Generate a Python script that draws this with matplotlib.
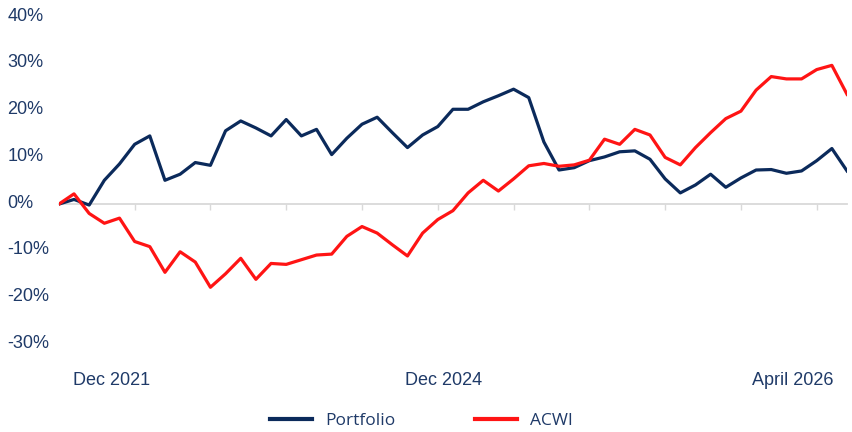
import matplotlib
matplotlib.use("Agg")
import matplotlib.pyplot as plt
import matplotlib.transforms as mtransforms
import numpy as np

# cumulative return (%), one value per period
portfolio = [0.0, 1.0, -0.2, 5.1, 8.6, 12.8, 14.6, 5.1, 6.4, 8.9,
             8.3, 15.7, 17.8, 16.3, 14.6, 18.1, 14.6, 16.0, 10.6, 14.1,
             17.1, 18.6, 15.3, 12.1, 14.8, 16.6, 20.3, 20.3, 21.9, 23.2,
             24.6, 22.8, 13.3, 7.3, 7.8, 9.3, 10.1, 11.2, 11.4, 9.6,
             5.4, 2.4, 4.1, 6.4, 3.6, 5.6, 7.3, 7.4, 6.6, 7.1,
             9.3, 11.9, 7.1]
acwi = [0.0, 2.2, -2.0, -4.1, -3.0, -8.0, -9.1, -14.6, -10.2, -12.4,
        -17.8, -14.9, -11.6, -16.1, -12.7, -12.9, -11.9, -10.9, -10.7, -6.9,
        -4.8, -6.2, -8.7, -11.1, -6.2, -3.3, -1.4, 2.4, 5.1, 2.8,
        5.4, 8.2, 8.7, 8.1, 8.4, 9.4, 13.9, 12.8, 16.0, 14.8,
        10.0, 8.4, 12.1, 15.3, 18.3, 19.9, 24.4, 27.3, 26.8, 26.8,
        28.8, 29.7, 23.5]

date_labels = ['Dec 2021', 'Dec 2024', 'April 2026']
date_label_pos = [3.5, 25.4, 48.4]
y_ticks = [-30, -20, -10, 0, 10, 20, 30, 40]

navy = '#0B2A5B'
red = '#FF1414'
text_col = '#1F3A68'
grey = '#D9D9D9'

plt.rcParams['font.family'] = ['Liberation Sans', 'DejaVu Sans']

x = np.arange(len(portfolio))

fig = plt.figure(figsize=(8.53, 4.32), dpi=100)
ax = fig.add_axes([0.069, 0.149, 0.924, 0.8165])

ax.plot(x, portfolio, color=navy, lw=2.3, zorder=3, label='Portfolio',
        solid_joinstyle='round')
ax.plot(x, acwi, color=red, lw=2.3, zorder=3, label='ACWI',
        solid_joinstyle='round')

ax.set_xlim(0, len(x) - 1)
ax.set_ylim(-35, 40.5)

# zero line with small tick marks
for s in ['top', 'right', 'left']:
    ax.spines[s].set_visible(False)
ax.spines['bottom'].set_position(('data', 0))
ax.spines['bottom'].set_color(grey)
ax.spines['bottom'].set_linewidth(1.3)
ax.set_xticks(np.arange(5, len(x), 5))
ax.set_xticklabels([])
ax.tick_params(axis='x', length=4, width=1, color=grey)

ax.set_yticks(y_ticks)
ax.set_yticklabels([f'{v}%' for v in y_ticks], ha='left')
ax.tick_params(axis='y', length=0, pad=37, labelsize=13, labelcolor=text_col)
# labels sit a little above their value in the original
shift = mtransforms.ScaledTranslation(0, 3 / 100, fig.dpi_scale_trans)
for lab in ax.get_yticklabels():
    lab.set_transform(lab.get_transform() + shift)

# date labels along the bottom
sec = ax.secondary_xaxis(0.0)
sec.set_xticks(date_label_pos)
sec.set_xticklabels(date_labels)
sec.tick_params(length=0, pad=3, labelsize=13, labelcolor=text_col)
sec.spines['bottom'].set_visible(False)

leg = fig.legend(loc='center', bbox_to_anchor=(0.494, 0.026), ncol=2,
                 frameon=False, handlelength=2.4, handletextpad=0.75,
                 columnspacing=4.6, prop={'family': 'Open Sans', 'size': 12.5})
for t in leg.get_texts():
    t.set_color(text_col)
for h in leg.legend_handles:
    h.set_linewidth(3)

fig.savefig('out.png', dpi=100)
